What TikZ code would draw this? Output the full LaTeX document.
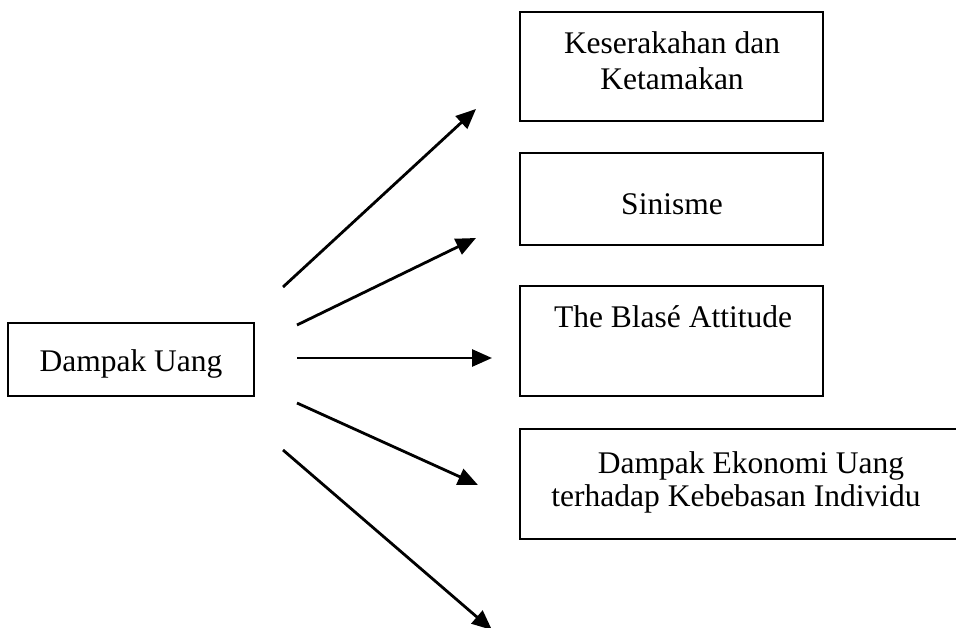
\documentclass[tikz,border=0pt]{standalone}
\usepackage{fontspec}
\setmainfont{Liberation Serif}
\usetikzlibrary{arrows.meta}
\begin{document}
\begin{tikzpicture}[x=1pt,y=-1pt,
  box/.style={draw, line width=2.7pt, inner sep=0pt, outer sep=0pt, anchor=north west},
  lbl/.style={font=\fontsize{31.5}{36}\selectfont, inner sep=0pt, anchor=base},
  arr/.style={line width=2.8pt, -{Triangle[length=20pt,width=17pt]}}]
\useasboundingbox (0,0) rectangle (956,627);
\clip (0,0) rectangle (956,627);
% boxes
\node[box, minimum width=246pt, minimum height=73pt] (src) at (8,323) {};
\node[box, minimum width=303pt, minimum height=109pt] (b1) at (520,12) {};
\node[box, minimum width=303pt, minimum height=92pt] (b2) at (520,153) {};
\node[box, minimum width=303pt, minimum height=110pt] (b3) at (520,286) {};
\node[box, minimum width=480pt, minimum height=110pt] (b4) at (520,429) {};
% texts
\node[lbl] (tsrc) at (131,371) {Dampak Uang};
\node[lbl] (t1a) at (672,53) {Keserakahan dan};
\node[lbl] (t1b) at (672,89) {Ketamakan};
\node[lbl] (t2) at (672,214) {Sinisme};
\node[lbl] (t3) at (673,327) {The Blasé Attitude};
\node[lbl] (t4a) at (751,473) {Dampak Ekonomi Uang};
\node[lbl] (t4b) at (736,506) {terhadap Kebebasan Individu};
% arrow ends
\coordinate (a1s) at (283,287); \coordinate (a1e) at (476,109);
\coordinate (a2s) at (297,325); \coordinate (a2e) at (476,238);
\coordinate (a3s) at (297,358); \coordinate (a3e) at (492,358);
\coordinate (a4s) at (297,403); \coordinate (a4e) at (478,485);
\coordinate (a5s) at (283,450); \coordinate (a5e) at (492,630);
\draw[arr] (a1s) -- (a1e);
\draw[arr] (a2s) -- (a2e);
\draw[arr] (a3s) -- (a3e);
\draw[arr] (a4s) -- (a4e);
\draw[arr] (a5s) -- (a5e);
\end{tikzpicture}
\end{document}
